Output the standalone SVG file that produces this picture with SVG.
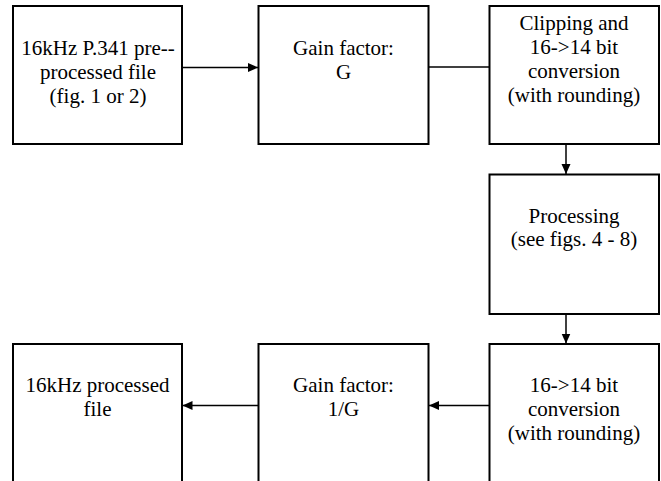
<svg xmlns="http://www.w3.org/2000/svg" width="661" height="481" viewBox="0 0 661 481">
<style>
.box{fill:#fff;stroke:#000;stroke-width:2}
.lbl{font-family:"Liberation Serif","Times New Roman",serif;font-size:21px;fill:#000;text-anchor:middle}
.con{stroke:#000;stroke-width:1.5;fill:none}
</style>
<defs>
<marker id="ah" markerUnits="userSpaceOnUse" markerWidth="11" markerHeight="10" refX="10" refY="4.5" orient="auto">
<path d="M0,0 L10,4.5 L0,9 Z" fill="#000"/>
</marker>
</defs>
<rect width="661" height="481" fill="#fff"/>
<g id="connectors">
<line class="con" x1="182" y1="67.5" x2="258" y2="67.5" marker-end="url(#ah)"/>
<line class="con" x1="428.5" y1="67" x2="489.5" y2="67"/>
<line class="con" x1="566" y1="144" x2="566" y2="174" marker-end="url(#ah)"/>
<line class="con" x1="566" y1="314" x2="566" y2="343.5" marker-end="url(#ah)"/>
<line class="con" x1="489.5" y1="405.5" x2="429" y2="405.5" marker-end="url(#ah)"/>
<line class="con" x1="258.5" y1="405.5" x2="182.5" y2="405.5" marker-end="url(#ah)"/>
</g>
<g id="n1">
<rect class="box" x="13" y="6" width="169" height="138"/>
<text class="lbl" x="98" y="55">16kHz P.341 pre--</text>
<text class="lbl" x="98" y="79">processed file</text>
<text class="lbl" x="98" y="102.5">(fig. 1 or 2)</text>
</g>
<g id="n2">
<rect class="box" x="258.5" y="6" width="170" height="138"/>
<text class="lbl" x="343.5" y="54.5">Gain factor:</text>
<text class="lbl" x="343.5" y="78.5">G</text>
</g>
<g id="n3">
<rect class="box" x="489.5" y="6" width="169.5" height="138"/>
<text class="lbl" x="574" y="30">Clipping and</text>
<text class="lbl" x="574" y="54">16-&gt;14 bit</text>
<text class="lbl" x="574" y="78">conversion</text>
<text class="lbl" x="574" y="101.5">(with rounding)</text>
</g>
<g id="n4">
<rect class="box" x="489.5" y="174.5" width="169.5" height="139.5"/>
<text class="lbl" x="574" y="223">Processing</text>
<text class="lbl" x="574" y="246">(see figs. 4 - 8)</text>
</g>
<g id="n5">
<rect class="box" x="489.5" y="344" width="169.5" height="150"/>
<text class="lbl" x="574" y="392">16-&gt;14 bit</text>
<text class="lbl" x="574" y="416">conversion</text>
<text class="lbl" x="574" y="440">(with rounding)</text>
</g>
<g id="n6">
<rect class="box" x="258.5" y="344" width="170" height="150"/>
<text class="lbl" x="343.5" y="392">Gain factor:</text>
<text class="lbl" x="343.5" y="416">1/G</text>
</g>
<g id="n7">
<rect class="box" x="13" y="344" width="169" height="150"/>
<text class="lbl" x="97.5" y="392">16kHz processed</text>
<text class="lbl" x="97.5" y="416">file</text>
</g>
</svg>
